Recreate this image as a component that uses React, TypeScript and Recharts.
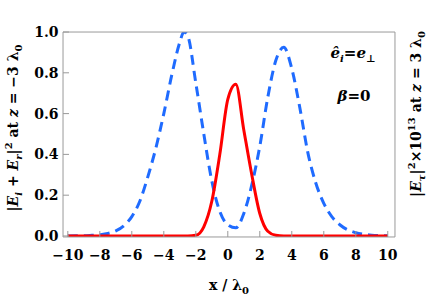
import React from 'react';
import { LineChart, Line, XAxis, YAxis } from 'recharts';

// x / lambda0 sample positions (extra point at the left peak)
const xs = [
  -10, -9.5, -9, -8.5, -8, -7.5, -7, -6.5, -6, -5.5, -5, -4.5, -4, -3.5, -3, -2.75, -2.5,
  -2, -1.5, -1, -0.5, 0, 0.5, 1, 1.5, 2, 2.5, 3, 3.5, 4, 4.5, 5, 5.5, 6, 6.5, 7, 7.5, 8,
  8.5, 9, 9.5, 10,
];

// |Ei + Er|^2 at z = -3 lambda0 (blue dashed)
const incidentReflected = [
  0.0, 0.001, 0.001, 0.003, 0.006, 0.012, 0.025, 0.05, 0.095, 0.17, 0.29, 0.43, 0.6, 0.79,
  0.95, 1.0, 0.98, 0.75, 0.5, 0.27, 0.12, 0.055, 0.04, 0.11, 0.25, 0.44, 0.68, 0.86, 0.925,
  0.82, 0.63, 0.41, 0.26, 0.16, 0.095, 0.055, 0.03, 0.016, 0.008, 0.004, 0.002, 0.001,
];

// |Etau|^2 x 1e13 at z = 3 lambda0 (red solid, drawn on the left scale)
const transmitted = [
  0, 0, 0, 0, 0, 0, 0, 0, 0, 0, 0, 0, 0, 0, 0, 0, 0, 0.003, 0.045, 0.17, 0.4, 0.67, 0.744,
  0.52, 0.3, 0.11, 0.023, 0.003, 0, 0, 0, 0, 0, 0, 0, 0, 0, 0, 0, 0, 0, 0,
];

const xTicks = [-10, -8, -6, -4, -2, 0, 2, 4, 6, 8, 10];
const xMinorTicks = [-9, -7, -5, -3, -1, 1, 3, 5, 7, 9];
const yTicks = [0, 0.2, 0.4, 0.6, 0.8, 1.0];
const yMinorTicks = [0.05, 0.1, 0.15, 0.25, 0.3, 0.35, 0.45, 0.5, 0.55, 0.65, 0.7, 0.75, 0.85, 0.9, 0.95];
const rightTicks = [0, 1, 2, 3, 4, 5, 6, 7, 8];
const rightMinorTicks = [0.5, 1.5, 2.5, 3.5, 4.5, 5.5, 6.5, 7.5];

const data = xs.map((x, i) => ({ x, blue: incidentReflected[i], red: transmitted[i] }));

const FONT = '"DejaVu Serif", serif';
const FRAME = '#999';
const tickFont = { fontFamily: FONT, fontWeight: 'bold', fontSize: 14, fill: '#000' };
const THIN = 0.01; // axes need a non-zero box to render
const X_DOMAIN: [number, number] = [-10.3, 10.45];
const Y_DOMAIN: [number, number] = [-0.005, 1.0];
const R_DOMAIN: [number, number] = [-0.04, 8.2];

const fmtX = (v: number) => (v < 0 ? '\u2212' + Math.abs(v) : String(v));

export default function App() {
  return (
    <div style={{ position: 'absolute', left: 0, top: 0, width: 429, height: 298, background: '#fff' }}>
      <LineChart width={429} height={298} data={data} margin={{ top: 32, right: 34, bottom: 61, left: 63 }}>
        <XAxis xAxisId="b" dataKey="x" type="number" domain={X_DOMAIN} ticks={xTicks}
          height={THIN} tickFormatter={fmtX} tick={tickFont} tickSize={-6} tickMargin={19}
          stroke={FRAME} tickLine={{ stroke: FRAME }} interval={0} allowDataOverflow />
        <XAxis xAxisId="bm" dataKey="x" type="number" domain={X_DOMAIN} ticks={xMinorTicks}
          height={THIN} tick={false} tickSize={-3} axisLine={false} tickLine={{ stroke: FRAME }} interval={0} />
        <XAxis xAxisId="t" orientation="top" dataKey="x" type="number" domain={X_DOMAIN} ticks={xTicks}
          height={THIN} tick={false} tickSize={-6} stroke={FRAME} tickLine={{ stroke: FRAME }} interval={0} />
        <XAxis xAxisId="tm" orientation="top" dataKey="x" type="number" domain={X_DOMAIN} ticks={xMinorTicks}
          height={THIN} tick={false} tickSize={-3} axisLine={false} tickLine={{ stroke: FRAME }} interval={0} />
        <YAxis yAxisId="l" type="number" domain={Y_DOMAIN} ticks={yTicks} width={THIN}
          tickFormatter={(v: number) => v.toFixed(1)} tick={tickFont} tickSize={-6} tickMargin={10.5}
          stroke={FRAME} tickLine={{ stroke: FRAME }} interval={0} allowDataOverflow />
        <YAxis yAxisId="lm" type="number" domain={Y_DOMAIN} ticks={yMinorTicks} width={THIN}
          tick={false} tickSize={-3} axisLine={false} tickLine={{ stroke: FRAME }} interval={0} />
        <YAxis yAxisId="r" orientation="right" type="number" domain={R_DOMAIN} ticks={rightTicks} width={THIN}
          tick={false} tickSize={-6} stroke={FRAME} tickLine={{ stroke: FRAME }} interval={0} />
        <YAxis yAxisId="rm" orientation="right" type="number" domain={R_DOMAIN} ticks={rightMinorTicks} width={THIN}
          tick={false} tickSize={-3} axisLine={false} tickLine={{ stroke: FRAME }} interval={0} />
        <Line xAxisId="b" yAxisId="l" dataKey="blue" type="monotone" stroke="#1f6bff" strokeWidth={3}
          strokeDasharray="10 6" dot={false} isAnimationActive={false} />
        <Line xAxisId="b" yAxisId="l" dataKey="red" type="monotone" stroke="#ff0000" strokeWidth={3}
          dot={false} isAnimationActive={false} />
      </LineChart>
      <svg width={429} height={298} style={{ position: 'absolute', left: 0, top: 0, pointerEvents: 'none' }}
        fontFamily={FONT} fontWeight="bold" fontSize={14}>
        <text transform="translate(18,128) rotate(-90)" textAnchor="middle">
          |<tspan fontStyle="italic">E</tspan><tspan fontStyle="italic" fontSize={10} dy={4}>i</tspan>
          <tspan dy={-4}> + </tspan><tspan fontStyle="italic">E</tspan>
          <tspan fontStyle="italic" fontSize={10} dy={4}>r</tspan><tspan dy={-4}>|</tspan>
          <tspan fontSize={10} dy={-6}>2</tspan><tspan dy={6}> at </tspan>
          <tspan fontStyle="italic">z</tspan> = {'\u2212'}3 λ<tspan fontSize={10} dy={4}>0</tspan>
        </text>
        <text transform="translate(421,114) rotate(-90)" textAnchor="middle">
          |<tspan fontStyle="italic">E</tspan><tspan fontStyle="italic" fontSize={10} dy={4}>τ</tspan>
          <tspan dy={-4}>|</tspan><tspan fontSize={10} dy={-6}>2</tspan>
          <tspan dy={6}>×10</tspan><tspan fontSize={10} dy={-6}>13</tspan>
          <tspan dy={6}> at </tspan><tspan fontStyle="italic">z</tspan> = 3 λ
          <tspan fontSize={10} dy={4}>0</tspan>
        </text>
        <text x={229} y={290} textAnchor="middle">
          x / λ<tspan fontSize={10} dy={4}>0</tspan>
        </text>
        <text x={353} y={58} textAnchor="middle" fontSize={15}>
          <tspan fontStyle="italic">ê</tspan><tspan fontStyle="italic" fontSize={10} dy={4}>i</tspan>
          <tspan dy={-4}>=</tspan><tspan fontStyle="italic">e</tspan>
          <tspan fontSize={10} dy={4}>⊥</tspan>
        </text>
        <text x={354} y={101} textAnchor="middle" fontSize={15}>
          <tspan fontStyle="italic">β</tspan>=0
        </text>
      </svg>
    </div>
  );
}
